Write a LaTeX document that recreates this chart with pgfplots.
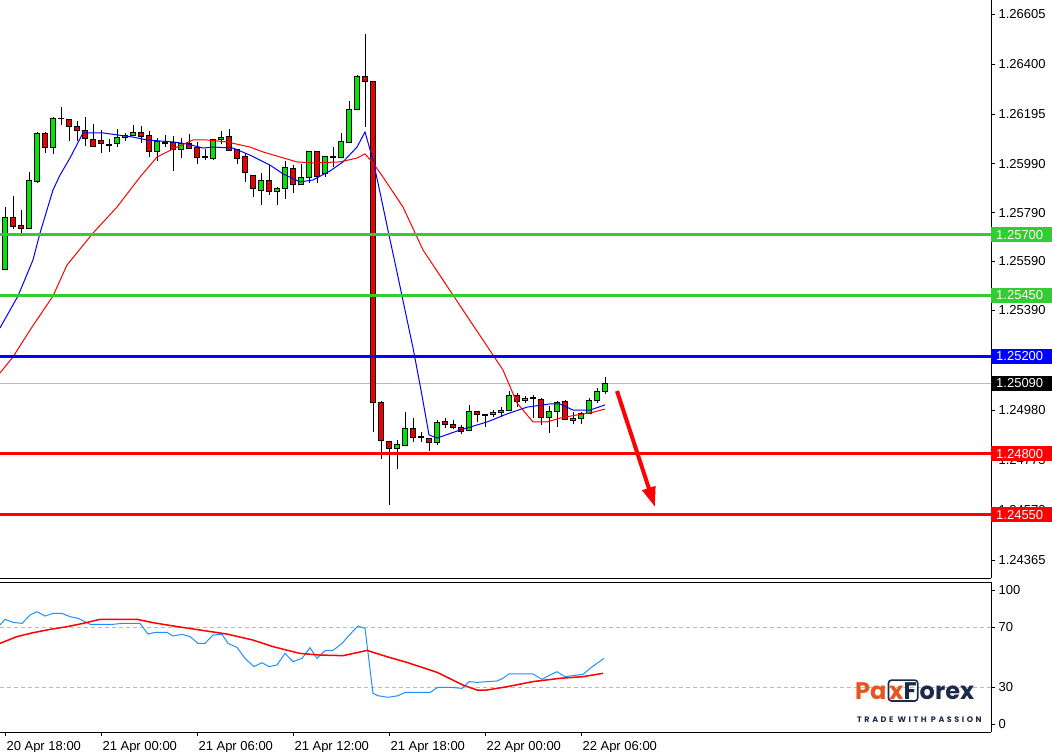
\documentclass[border=0pt]{standalone}
\usepackage{pgfplots}
\pgfplotsset{compat=1.18}
\usepackage{pgfplotstable}
\usepackage{fontspec}
\setmainfont{Liberation Sans}
\newfontfamily\logofont{Poppins}
\newfontfamily\tagfont{Poppins}[LetterSpace=32]
\usetikzlibrary{arrows.meta}

\definecolor{bull}{RGB}{0,230,0}
\definecolor{bear}{RGB}{235,0,0}
\definecolor{lvlgreen}{RGB}{50,205,50}
\definecolor{lvlblue}{RGB}{0,0,255}
\definecolor{lvlred}{RGB}{255,0,0}
\definecolor{rsiblue}{RGB}{30,144,255}
\definecolor{paxorange}{RGB}{232,84,30}
\definecolor{paxnavy}{RGB}{27,42,74}

% one candle: index, open, high, low, close
\newcommand\candle[5]{%
  \draw[black, line width=1pt] (axis cs:#1,#3) -- (axis cs:#1,#4);
  \ifdim#5pt>#2pt
    \filldraw[fill=bull, draw=black, line width=1pt] ([xshift=-2.5pt]axis cs:#1,#2) rectangle ([xshift=2.5pt]axis cs:#1,#5);
  \else\ifdim#5pt<#2pt
    \filldraw[fill=bear, draw=black, line width=1pt] ([xshift=-2.5pt]axis cs:#1,#2) rectangle ([xshift=2.5pt]axis cs:#1,#5);
  \else
    \draw[black, line width=1.4pt] ([xshift=-3pt]axis cs:#1,#2) -- ([xshift=3pt]axis cs:#1,#2);
  \fi\fi}

% M30 candles, 20 Apr 18:00 onwards
\pgfplotstableread{
i o h l c
0 1.25555 1.25813 1.25555 1.25768
1 1.25768 1.25858 1.25723 1.25735
2 1.25739 1.25801 1.25706 1.25723
3 1.25723 1.25957 1.25723 1.25920
4 1.25916 1.26121 1.25912 1.26113
5 1.26113 1.26121 1.26035 1.26059
6 1.26059 1.26182 1.26031 1.26178
7 1.26175 1.26223 1.26150 1.26175
8 1.26174 1.26174 1.26084 1.26145
9 1.26145 1.26166 1.26084 1.26125
10 1.26129 1.26182 1.26063 1.26096
11 1.26092 1.26154 1.26063 1.26063
12 1.26084 1.26129 1.26035 1.26072
13 1.26068 1.26092 1.26039 1.26068
14 1.26072 1.26133 1.26059 1.26100
15 1.26100 1.26117 1.26084 1.26108
16 1.26108 1.26150 1.26104 1.26117
17 1.26117 1.26145 1.26076 1.26104
18 1.26108 1.26125 1.26018 1.26039
19 1.26039 1.26096 1.26002 1.26080
20 1.26076 1.26108 1.26059 1.26076
21 1.26076 1.26104 1.25961 1.26047
22 1.26051 1.26096 1.26014 1.26072
23 1.26072 1.26113 1.26051 1.26055
24 1.26059 1.26080 1.25990 1.26018
25 1.26018 1.26051 1.26006 1.26018
26 1.26014 1.26092 1.26006 1.26092
27 1.26092 1.26125 1.26072 1.26100
28 1.26104 1.26133 1.26043 1.26043
29 1.26047 1.26047 1.25990 1.26014
30 1.26022 1.26031 1.25916 1.25953
31 1.25944 1.25944 1.25854 1.25887
32 1.25879 1.25953 1.25821 1.25920
33 1.25920 1.25985 1.25862 1.25875
34 1.25875 1.25895 1.25821 1.25887
35 1.25887 1.26002 1.25846 1.25977
36 1.25973 1.25985 1.25870 1.25907
37 1.25907 1.25990 1.25907 1.25936
38 1.25936 1.26043 1.25912 1.26039
39 1.26039 1.26039 1.25912 1.25940
40 1.25949 1.26022 1.25936 1.26022
41 1.26018 1.26059 1.25977 1.26018
42 1.26018 1.26117 1.26018 1.26080
43 1.26076 1.26248 1.26076 1.26215
44 1.26215 1.26355 1.26215 1.26347
45 1.26347 1.26523 1.26141 1.26326
46 1.26326 1.26326 1.24890 1.25009
47 1.25009 1.25017 1.24779 1.24857
48 1.24853 1.24853 1.24590 1.24824
49 1.24824 1.24857 1.24738 1.24837
50 1.24833 1.24972 1.24833 1.24906
51 1.24906 1.24947 1.24849 1.24869
52 1.24869 1.24890 1.24849 1.24869
53 1.24865 1.24865 1.24812 1.24845
54 1.24845 1.24939 1.24837 1.24927
55 1.24931 1.24947 1.24906 1.24919
56 1.24919 1.24939 1.24902 1.24910
57 1.24910 1.24919 1.24882 1.24894
58 1.24898 1.25001 1.24898 1.24976
59 1.24976 1.24976 1.24931 1.24960
60 1.24960 1.24960 1.24910 1.24960
61 1.24960 1.24980 1.24951 1.24972
62 1.24968 1.24992 1.24951 1.24980
63 1.24980 1.25058 1.24980 1.25038
64 1.25038 1.25050 1.24992 1.25017
65 1.25021 1.25038 1.25009 1.25029
66 1.25029 1.25042 1.24947 1.25029
67 1.25025 1.25029 1.24919 1.24951
68 1.24951 1.24997 1.24886 1.24976
69 1.24976 1.25017 1.24910 1.25013
70 1.25017 1.25021 1.24943 1.24943
71 1.24939 1.24972 1.24923 1.24947
72 1.24947 1.24972 1.24923 1.24964
73 1.24964 1.25029 1.24964 1.25021
74 1.25021 1.25070 1.25009 1.25058
75 1.25058 1.25116 1.25046 1.25090
}\candles

\pgfplotstableread{
i ma
-0.625 1.25317
1.625 1.25448
3.5 1.25596
4.375 1.25706
6 1.25883
6.875 1.25944
8.125 1.26014
9.75 1.26117
12.25 1.26117
16 1.26100
17.75 1.26088
21 1.26080
22.75 1.26072
24.75 1.26055
26 1.26059
28.5 1.26055
30.625 1.26026
33.125 1.25985
34.75 1.25949
36.875 1.25916
38.5 1.25924
40.625 1.25961
42.25 1.25998
44 1.26059
45 1.26121
46 1.26006
47 1.25854
48 1.25698
49 1.25546
50 1.25390
51 1.25235
52 1.25062
53 1.24878
54 1.24865
56.875 1.24898
60.25 1.24931
62.75 1.24964
65.25 1.24992
68.125 1.25005
69.375 1.25005
71 1.24980
73.125 1.24980
75 1.25001
}\fastma

\pgfplotstableread{
i ma
-0.625 1.25132
1 1.25198
3.125 1.25308
6 1.25448
7.75 1.25575
11 1.25706
14 1.25813
16.875 1.25936
19 1.26018
20.25 1.26039
21.5 1.26059
23.5 1.26088
25.25 1.26088
27.75 1.26080
30.625 1.26059
32.25 1.26039
36.5 1.25998
38.5 1.25994
41.875 1.25998
44 1.26014
45 1.26031
46 1.25994
47.25 1.25936
49.75 1.25813
52.25 1.25637
57.25 1.25390
62.25 1.25144
64 1.25009
66 1.24931
67.75 1.24931
69.375 1.24947
71.5 1.24960
73.125 1.24968
75 1.24984
}\slowma

\pgfplotstableread{
i rsi
-0.625 71.3
0 75.1
1 73.1
2.125 72.4
3.125 78.0
4 80.2
5 77.3
6 79.1
7.125 79.1
8.125 76.9
9.125 75.8
10.625 71.8
13.5 71.8
14.625 72.4
16.875 72.4
17.875 65.3
18.75 66.4
20.25 66.4
21 64.0
22.125 65.1
23.125 63.6
24.125 59.1
25 59.1
26 64.7
27.125 65.1
27.875 59.1
29 56.4
30 49.1
31.125 43.6
32.125 46.2
33 43.6
34 44.7
35 52.4
36 46.9
37.125 49.1
38.125 56.2
39 49.1
40 54.2
41 54.4
42.125 59.1
43.125 65.1
44.125 70.7
45 69.1
46 25.8
46.625 24.2
47.875 23.1
49.125 24.2
50 26.4
53.125 26.4
54.125 29.8
55.625 29.8
57.125 29.1
58 33.6
59 33.1
61.5 34.0
62.25 35.8
63 38.7
66 38.7
67.125 35.1
68.125 38.0
69 40.2
70 36.9
71 37.6
72.25 38.4
73.125 42.4
74 45.8
74.875 49.1
}\rsi

\pgfplotstableread{
i sig
-0.625 59.1
1.5 63.6
3.5 66.2
5.625 68.4
7.75 70.2
9.75 72.4
11.875 75.1
16.5 75.1
18.5 72.9
21 70.7
24.375 68.0
27.75 65.3
31 61.3
33.5 56.9
36.875 52.4
39.375 51.3
42.25 50.9
44 52.9
45.25 54.4
47.75 50.2
50.25 46.4
54 39.8
57.25 31.3
59 28.0
60.25 28.0
62.75 30.2
66 33.6
69.375 35.8
72.25 36.9
74.75 39.1
}\rsisig

\begin{document}
\begin{tikzpicture}[x=1pt,y=1pt]
\useasboundingbox (0,0) rectangle (1052,-752);

\begin{axis}[
  at={(0pt,0pt)}, anchor=north west,
  width=991pt, height=578pt, scale only axis,
  xmin=-0.625, xmax=123.25,
  ymin=1.242909, ymax=1.266624,
  axis x line*=box, axis y line*=right,
  axis line style={black, line width=1pt},
  xtick=\empty,
  ytick pos=right, yticklabel pos=right,
  ytick={1.24365,1.24570,1.24775,1.24980,1.25390,1.25590,1.25790,1.25990,1.26195,1.26400,1.26605},
  yticklabels={1.24365,1.24570,1.24775,1.24980,1.25390,1.25590,1.25790,1.25990,1.26195,1.26400,1.26605},
  scaled y ticks=false,
  tick align=outside, major tick length=4pt,
  tick style={black, line width=0.8pt},
  tick label style={font=\fontsize{13}{15}\selectfont},
  yticklabel style={anchor=west},
  clip mode=individual,
  after end axis/.code={
    \foreach \v/\col in {1.25700/lvlgreen,1.25450/lvlgreen,1.25200/lvlblue,1.25090/black,1.24800/lvlred,1.24550/lvlred}{
      \node[fill=\col, text=white, anchor=west, inner xsep=5pt, inner ysep=0pt,
            minimum height=15pt, font=\fontsize{13}{15}\selectfont]
        at (axis cs:123.25,\v) {\makebox[51pt][l]{\v}};
    }
  },
]
\addplot[gray!55, line width=0.8pt, forget plot] coordinates {(-0.625,1.25090) (123.25,1.25090)};

\pgfplotsinvokeforeach{0,...,75}{
  \pgfplotstablegetelem{#1}{i}\of\candles \edef\ci{\pgfplotsretval}
  \pgfplotstablegetelem{#1}{o}\of\candles \edef\co{\pgfplotsretval}
  \pgfplotstablegetelem{#1}{h}\of\candles \edef\ch{\pgfplotsretval}
  \pgfplotstablegetelem{#1}{l}\of\candles \edef\cl{\pgfplotsretval}
  \pgfplotstablegetelem{#1}{c}\of\candles \edef\cc{\pgfplotsretval}
  \edef\temp{\noexpand\candle{\ci}{\co}{\ch}{\cl}{\cc}}\temp
}

\addplot[lvlblue, line width=1pt] table[x=i, y=ma] {\fastma};
\addplot[lvlred, line width=1pt] table[x=i, y=ma] {\slowma};

\addplot[lvlgreen, line width=3pt] coordinates {(-0.625,1.25700) (123.25,1.25700)};
\addplot[lvlgreen, line width=3pt] coordinates {(-0.625,1.25450) (123.25,1.25450)};
\addplot[lvlblue, line width=3pt] coordinates {(-0.625,1.25200) (123.25,1.25200)};
\addplot[lvlred, line width=3pt] coordinates {(-0.625,1.24800) (123.25,1.24800)};
\addplot[lvlred, line width=3pt] coordinates {(-0.625,1.24550) (123.25,1.24550)};

\addplot[lvlred, line width=4pt, -{Triangle[length=20pt,width=13pt]}] coordinates {(76.5,1.25058) (81.25,1.24582)};
\end{axis}

\begin{axis}[
  at={(0pt,-582pt)}, anchor=north west,
  width=991pt, height=150pt, scale only axis,
  xmin=-0.625, xmax=123.25, ymin=0, ymax=100,
  axis x line*=box, axis y line*=right,
  axis line style={black, line width=1pt},
  xtick={0,12,24,36,48,60,72},
  xticklabels={20 Apr 18:00,21 Apr 00:00,21 Apr 06:00,21 Apr 12:00,21 Apr 18:00,22 Apr 00:00,22 Apr 06:00},
  xtick pos=left, ytick pos=right, yticklabel pos=right,
  ytick={30,70},
  ymajorgrids, grid style={gray!55, dash pattern=on 4pt off 3pt, line width=0.8pt},
  extra y ticks={5.3,94.7}, extra y tick labels={0,100}, extra y tick style={grid=none},
  tick align=outside, major tick length=4pt,
  tick style={black, line width=0.8pt},
  tick label style={font=\fontsize{13}{15}\selectfont},
  xticklabel style={anchor=north west, xshift=-2pt, yshift=-2pt},
  yticklabel style={anchor=west},
  /pgf/number format/assume math mode=true,
  clip mode=individual,
]
\addplot[rsiblue, line width=1pt] table[x=i, y=rsi] {\rsi};
\addplot[lvlred, line width=1.5pt] table[x=i, y=sig] {\rsisig};
\end{axis}

% logo
\node[anchor=base west, inner sep=0pt, text=paxorange, font=\logofont\bfseries\fontsize{24}{24}\selectfont] (pa) at (855,-699) {Pa};
\node[anchor=base west, inner xsep=1pt, inner ysep=2pt, draw=paxnavy, line width=1.6pt, rounded corners=3pt,
      font=\logofont\bfseries\fontsize{24}{24}\selectfont] (xf) at ([xshift=1pt]pa.base east) {\textcolor{paxorange}{x}\textcolor{paxnavy}{F}};
\node[anchor=base west, inner sep=0pt, text=paxnavy, font=\logofont\bfseries\fontsize{24}{24}\selectfont] at ([xshift=1pt]xf.base east) {orex};
\node[anchor=base west, inner sep=0pt, text=paxnavy, font=\tagfont\bfseries\fontsize{8}{9}\selectfont] at (857,-722) {TRADE WITH PASSION};
\end{tikzpicture}
\end{document}
